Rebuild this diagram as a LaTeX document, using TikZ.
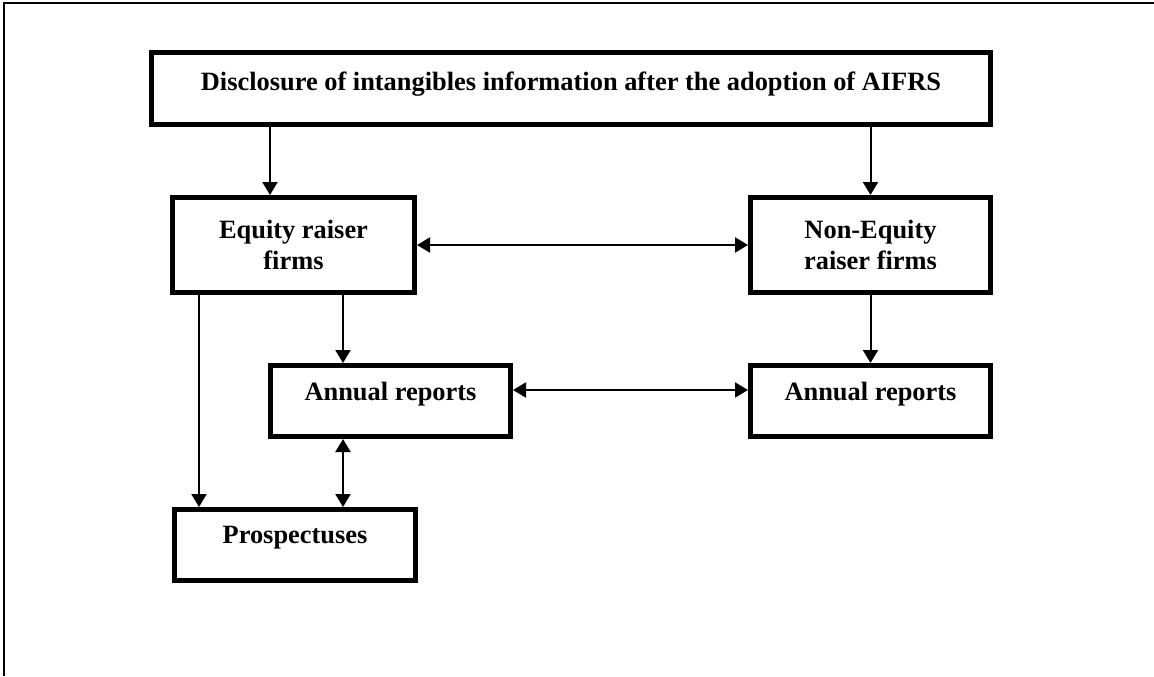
\documentclass[tikz,border=0pt]{standalone}
\usepackage{fontspec}
\setmainfont{Liberation Serif}
\usetikzlibrary{arrows.meta}

\begin{document}
\begin{tikzpicture}[x=0.5pt, y=-0.5pt, ->, >={Triangle[length=6.5pt,width=7.5pt]}, shorten >=0pt, line width=1pt]

%====Stile dei riquadri=====================================================

	\tikzstyle{every node}=[font=\bfseries\fontsize{13.2}{15.5}\selectfont]
	\tikzstyle{firmbox}=[draw, line width=2.3pt, align=center, inner sep=0pt, minimum width=120.2pt, minimum height=35.7pt]
	\tikzstyle{tall}=[minimum height=47.7pt]
	\tikzstyle{lift}=[text depth=10pt]
	\tikzstyle{both}=[<->, shorten <=0pt]

%====Cornice=================================================================
	\useasboundingbox (0,0) rectangle (1154,676);
	\draw[-, shorten >=0pt] (4,676) -- (4,3) -- (1154,3);

%====Riquadri e posizione====================================================
	\node[firmbox, lift, minimum width=419.7pt, minimum height=36.2pt, text depth=7.5pt]
	                      (top)    at (571,88.5)   {Disclosure of intangibles information after the adoption of AIFRS};
	\node[firmbox, tall, minimum width=121.2pt] (eq)     at (293.5,245)  {Equity raiser\\firms};
	\node[firmbox, tall]  (noneq)  at (870.5,245)  {Non-Equity\\raiser firms};
	\node[firmbox, lift]  (annL)   at (390.5,401)  {Annual reports};
	\node[firmbox, lift]  (annR)   at (870.5,401)  {Annual reports};
	\node[firmbox, lift, minimum width=120.7pt] (prosp)  at (295,545)    {Prospectuses};

%====Collegamenti============================================================
	\draw ([xshift=-11.75pt]eq.north |- top.south) -- ([xshift=-11.75pt]eq.north);
	\draw (top.south -| noneq.north) -- (noneq.north);
	\draw[both] (eq.east) -- (noneq.west);
	\draw ([xshift=-23.75pt]annL.north |- eq.south) -- ([xshift=-23.75pt]annL.north);
	\draw (noneq.south) -- (annR.north);
	\draw[both] ([yshift=5.5pt]annL.east) -- ([yshift=5.5pt]annL.east -| annR.west);
	\draw[both] ([xshift=-23.75pt]annL.south) -- ([xshift=-23.75pt]annL.south |- prosp.north);
	\draw ([xshift=-47.25pt]eq.south) -- ([xshift=-47.25pt]eq.south |- prosp.north);
\end{tikzpicture}
\end{document}
